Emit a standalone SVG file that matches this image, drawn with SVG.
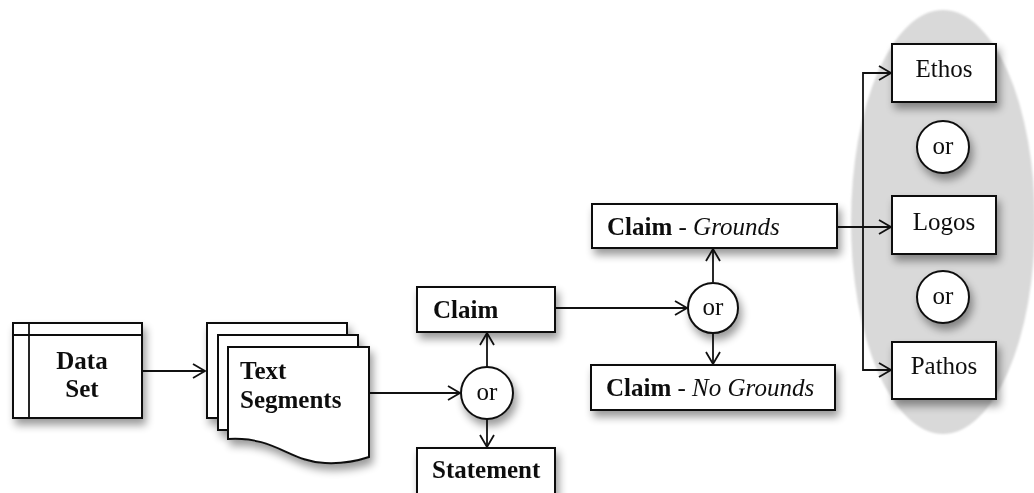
<svg xmlns="http://www.w3.org/2000/svg" width="1034" height="493" viewBox="0 0 1034 493">
  <style>
    .box { fill: #ffffff; stroke: #111111; stroke-width: 2; }
    .line { fill: none; stroke: #111111; stroke-width: 1.8; }
    .t { font-family: "Liberation Serif", "Times New Roman", serif; font-size: 25px; fill: #111111; }
    .b { font-weight: bold; }
    .i { font-style: italic; }
  </style>
  <defs>
    <filter id="shadow" x="-30%" y="-30%" width="170%" height="170%">
      <feGaussianBlur in="SourceAlpha" stdDeviation="4.5"/>
      <feOffset dx="3" dy="6" result="off"/>
      <feComponentTransfer><feFuncA type="linear" slope="0.4"/></feComponentTransfer>
      <feMerge><feMergeNode/><feMergeNode in="SourceGraphic"/></feMerge>
    </filter>
    <filter id="soft" x="-10%" y="-10%" width="120%" height="120%">
      <feGaussianBlur stdDeviation="1.2"/>
    </filter>
    <marker id="arrow" markerUnits="userSpaceOnUse" markerWidth="16" markerHeight="18" refX="13" refY="8" orient="auto">
      <path d="M1,1 L13,8 L1,15" fill="none" stroke="#111111" stroke-width="1.8"/>
    </marker>
  </defs>

  <!-- grey backdrop grouping the three appeals -->
  <ellipse id="appeals-area" cx="943" cy="222" rx="92" ry="212" fill="#d9d9d9" filter="url(#soft)"/>

  <!-- connectors -->
  <g id="connectors">
    <path class="line" d="M142,371 H205" marker-end="url(#arrow)"/>
    <path class="line" d="M369,393 H460" marker-end="url(#arrow)"/>
    <path class="line" d="M487,367 V333" marker-end="url(#arrow)"/>
    <path class="line" d="M487,419 V447" marker-end="url(#arrow)"/>
    <path class="line" d="M555,308 H687" marker-end="url(#arrow)"/>
    <path class="line" d="M713,282 V249" marker-end="url(#arrow)"/>
    <path class="line" d="M713,334 V364" marker-end="url(#arrow)"/>
    <path class="line" d="M837,227 H891" marker-end="url(#arrow)"/>
    <path class="line" d="M863,227 V73 H891" marker-end="url(#arrow)"/>
    <path class="line" d="M863,227 V370 H891" marker-end="url(#arrow)"/>
  </g>

  <!-- data set (internal storage symbol) -->
  <g id="data-set" filter="url(#shadow)">
    <rect class="box" x="13" y="323" width="129" height="95"/>
    <path class="line" d="M29,323 V418 M13,335 H142" stroke-width="2"/>
    <text class="t b" x="82" y="369" text-anchor="middle" font-size="26">Data</text>
    <text class="t b" x="82" y="397" text-anchor="middle" font-size="26">Set</text>
  </g>

  <!-- text segments (stacked documents) -->
  <g id="text-segments" filter="url(#shadow)">
    <rect class="box" x="207" y="323" width="140" height="95"/>
    <rect class="box" x="218" y="335" width="140" height="95"/>
    <path class="box" d="M228,347 H369 V457 C360,460 345,464 325,463 C290,462 275,436 228,439 Z"/>
    <text class="t b" x="240" y="379" font-size="26">Text</text>
    <text class="t b" x="240" y="408" font-size="26">Segments</text>
  </g>

  <g id="or-1" filter="url(#shadow)">
    <circle class="box" cx="487" cy="393" r="26"/>
    <text class="t" x="487" y="400" text-anchor="middle">or</text>
  </g>

  <g id="claim" filter="url(#shadow)">
    <rect class="box" x="417" y="287" width="138" height="45"/>
    <text class="t b" x="433" y="318">Claim</text>
  </g>

  <g id="statement" filter="url(#shadow)">
    <rect class="box" x="417" y="448" width="138" height="60"/>
    <text class="t b" x="432" y="478">Statement</text>
  </g>

  <g id="or-2" filter="url(#shadow)">
    <circle class="box" cx="713" cy="308" r="25"/>
    <text class="t" x="713" y="315" text-anchor="middle">or</text>
  </g>

  <g id="claim-grounds" filter="url(#shadow)">
    <rect class="box" x="592" y="204" width="245" height="44"/>
    <text class="t" x="607" y="235"><tspan class="b">Claim</tspan> - <tspan class="i">Grounds</tspan></text>
  </g>

  <g id="claim-no-grounds" filter="url(#shadow)">
    <rect class="box" x="591" y="365" width="244" height="45"/>
    <text class="t" x="606" y="396"><tspan class="b">Claim</tspan> - <tspan class="i">No Grounds</tspan></text>
  </g>

  <g id="ethos" filter="url(#shadow)">
    <rect class="box" x="892" y="44" width="104" height="58"/>
    <text class="t" x="944" y="77" text-anchor="middle">Ethos</text>
  </g>

  <g id="or-3" filter="url(#shadow)">
    <circle class="box" cx="943" cy="147" r="26"/>
    <text class="t" x="943" y="154" text-anchor="middle">or</text>
  </g>

  <g id="logos" filter="url(#shadow)">
    <rect class="box" x="892" y="196" width="104" height="58"/>
    <text class="t" x="944" y="230" text-anchor="middle">Logos</text>
  </g>

  <g id="or-4" filter="url(#shadow)">
    <circle class="box" cx="943" cy="297" r="26"/>
    <text class="t" x="943" y="304" text-anchor="middle">or</text>
  </g>

  <g id="pathos" filter="url(#shadow)">
    <rect class="box" x="892" y="342" width="104" height="57"/>
    <text class="t" x="944" y="374" text-anchor="middle">Pathos</text>
  </g>
</svg>
